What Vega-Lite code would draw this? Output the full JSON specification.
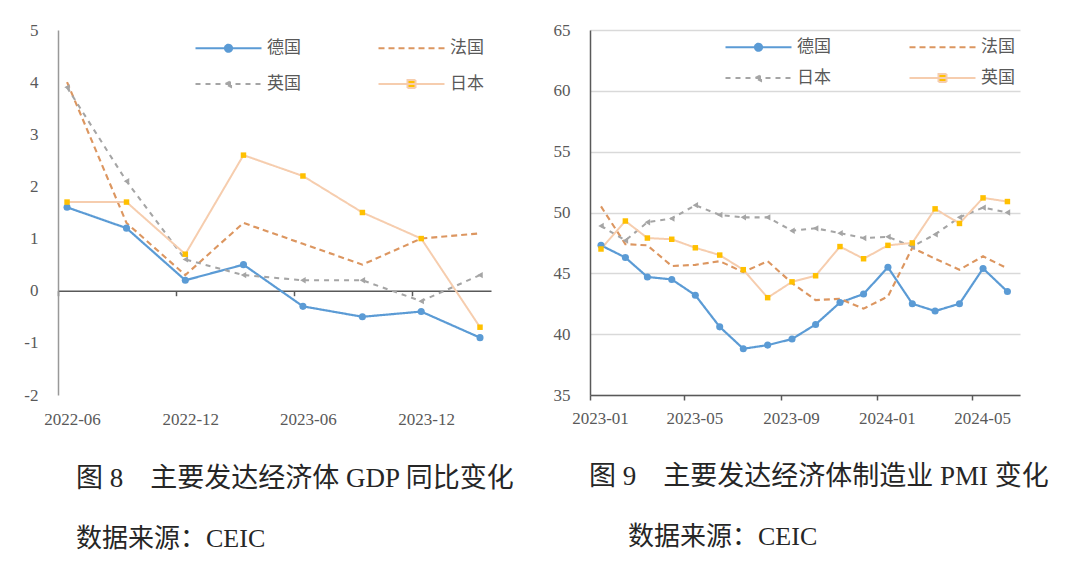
{
  "$schema": "https://vega.github.io/schema/vega-lite/v6.json",
  "background": "white",
  "padding": {"left": 23, "top": 21, "right": 5, "bottom": 5},
  "bounds": "flush",
  "spacing": 99,
  "hconcat": [
    {
      "width": 433,
      "height": 365,
      "title": {
        "text": "图 8　主要发达经济体 GDP 同比变化",
        "subtitle": "数据来源：CEIC",
        "orient": "bottom",
        "anchor": "start",
        "frame": "group",
        "dx": 18,
        "offset": 38,
        "subtitlePadding": 33
      },
      "data": {
        "format": {"parse": {"date": "date:'%Y-%m-%d'"}},
        "values": [
          {"date": "2022-06-15", "country": "德国", "value": 1.6},
          {"date": "2022-09-15", "country": "德国", "value": 1.2},
          {"date": "2022-12-15", "country": "德国", "value": 0.2},
          {"date": "2023-03-15", "country": "德国", "value": 0.5},
          {"date": "2023-06-15", "country": "德国", "value": -0.3},
          {"date": "2023-09-15", "country": "德国", "value": -0.5},
          {"date": "2023-12-15", "country": "德国", "value": -0.4},
          {"date": "2024-03-15", "country": "德国", "value": -0.9},
          {"date": "2022-06-15", "country": "法国", "value": 4.0},
          {"date": "2022-09-15", "country": "法国", "value": 1.3},
          {"date": "2022-12-15", "country": "法国", "value": 0.3},
          {"date": "2023-03-15", "country": "法国", "value": 1.3},
          {"date": "2023-06-15", "country": "法国", "value": 0.9},
          {"date": "2023-09-15", "country": "法国", "value": 0.5},
          {"date": "2023-12-15", "country": "法国", "value": 1.0},
          {"date": "2024-03-15", "country": "法国", "value": 1.1},
          {"date": "2022-06-15", "country": "英国", "value": 3.9},
          {"date": "2022-09-15", "country": "英国", "value": 2.1},
          {"date": "2022-12-15", "country": "英国", "value": 0.6},
          {"date": "2023-03-15", "country": "英国", "value": 0.3},
          {"date": "2023-06-15", "country": "英国", "value": 0.2},
          {"date": "2023-09-15", "country": "英国", "value": 0.2},
          {"date": "2023-12-15", "country": "英国", "value": -0.2},
          {"date": "2024-03-15", "country": "英国", "value": 0.3},
          {"date": "2022-06-15", "country": "日本", "value": 1.7},
          {"date": "2022-09-15", "country": "日本", "value": 1.7},
          {"date": "2022-12-15", "country": "日本", "value": 0.7},
          {"date": "2023-03-15", "country": "日本", "value": 2.6},
          {"date": "2023-06-15", "country": "日本", "value": 2.2},
          {"date": "2023-09-15", "country": "日本", "value": 1.5},
          {"date": "2023-12-15", "country": "日本", "value": 1.0},
          {"date": "2024-03-15", "country": "日本", "value": -0.7}
        ]
      },
      "encoding": {
        "x": {
          "field": "date",
          "type": "temporal",
          "scale": {"domain": [{"year": 2022, "month": 6, "date": 1}, {"year": 2024, "month": 4, "date": 1}]},
          "axis": {
            "title": null,
            "values": [
              {"year": 2022, "month": 6, "date": 1},
              {"year": 2022, "month": 12, "date": 1},
              {"year": 2023, "month": 6, "date": 1},
              {"year": 2023, "month": 12, "date": 1}
            ],
            "format": "%Y-%m",
            "offset": -104.3,
            "tickSize": 5,
            "labelPadding": 116,
            "labelOffset": 14,
            "domainColor": "#595959",
            "tickColor": "#595959",
            "grid": false
          }
        },
        "y": {
          "field": "value",
          "type": "quantitative",
          "scale": {"domain": [-2, 5], "nice": false, "zero": false},
          "axis": {
            "title": null,
            "values": [-2, -1, 0, 1, 2, 3, 4, 5],
            "labelExpr": "'' + datum.value",
            "grid": false,
            "ticks": false,
            "labelPadding": 20,
            "domainColor": "#999999"
          }
        }
      },
      "layer": [
        {
          "mark": {"type": "line"},
          "encoding": {
            "color": {
              "field": "country",
              "type": "nominal",
              "scale": {
                "domain": ["德国", "法国", "英国", "日本"],
                "range": ["#5B9BD5", "#DC9660", "#A5A5A5", "#F6CDAE"]
              },
              "legend": {
                "title": null,
                "orient": "none",
                "direction": "horizontal",
                "legendX": 162,
                "legendY": 9.5,
                "columns": 2,
                "columnPadding": 73,
                "rowPadding": 18,
                "padding": 0,
                "symbolSize": 100,
                "symbolStrokeWidth": 1.8,
                "labelOffset": 30,
                "encode": {
                  "symbols": {
                    "update": {
                      "shape": {"signal": "datum.value === '德国' ? 'M-6.6,0H6.6M-0.7,0A0.7,0.7,0,1,0,0.7,0A0.7,0.7,0,1,0,-0.7,0' : datum.value === '英国' ? 'M-6.6,0H6.6M-0.6,0L0.5,-0.55L0.5,0.55Z' : datum.value === '日本' ? 'M-6.6,0H6.6M-0.8,-0.8H0.8V0.8H-0.8Z' : 'M-6.6,0H6.6'"},
                      "fill": {"signal": "datum.value === '德国' ? '#5B9BD5' : datum.value === '英国' ? '#A5A5A5' : datum.value === '日本' ? '#FFC000' : 'transparent'"}
                    }
                  }
                }
              }
            },
            "strokeDash": {
              "field": "country",
              "type": "nominal",
              "scale": {
                "domain": ["德国", "法国", "英国", "日本"],
                "range": [[1, 0], [6, 4], [5, 5], [1, 0]]
              },
              "legend": {"title": null}
            },
            "strokeWidth": {
              "field": "country",
              "type": "nominal",
              "scale": {
                "domain": ["德国", "法国", "英国", "日本"],
                "range": [2.2, 2, 1.6, 1.6]
              },
              "legend": null
            }
          }
        },
        {
          "transform": [{"filter": "datum.country !== '法国'"}],
          "mark": {"type": "point", "filled": true, "opacity": 1, "strokeWidth": 0},
          "encoding": {
            "fill": {
              "field": "country",
              "type": "nominal",
              "scale": {"domain": ["德国", "英国", "日本"], "range": ["#5B9BD5", "#A5A5A5", "#FFC000"]},
              "legend": null
            },
            "shape": {
              "field": "country",
              "type": "nominal",
              "scale": {"domain": ["德国", "英国", "日本"], "range": ["circle", "triangle-left", "square"]},
              "legend": null
            },
            "size": {
              "field": "country",
              "type": "nominal",
              "scale": {"domain": ["德国", "英国", "日本"], "range": [50, 30, 72]},
              "legend": null
            }
          }
        }
      ]
    },
    {
      "width": 430,
      "height": 365,
      "title": {
        "text": "图 9　主要发达经济体制造业 PMI 变化",
        "subtitle": "\u200b\u2003\u2002数据来源：CEIC",
        "orient": "bottom",
        "anchor": "start",
        "frame": "group",
        "dx": -1,
        "offset": 38,
        "subtitlePadding": 33
      },
      "data": {
        "format": {"parse": {"date": "date:'%Y-%m-%d'"}},
        "values": [
          {"date": "2023-01-15", "country": "德国", "value": 47.3},
          {"date": "2023-02-15", "country": "德国", "value": 46.3},
          {"date": "2023-03-15", "country": "德国", "value": 44.7},
          {"date": "2023-04-15", "country": "德国", "value": 44.5},
          {"date": "2023-05-15", "country": "德国", "value": 43.2},
          {"date": "2023-06-15", "country": "德国", "value": 40.6},
          {"date": "2023-07-15", "country": "德国", "value": 38.8},
          {"date": "2023-08-15", "country": "德国", "value": 39.1},
          {"date": "2023-09-15", "country": "德国", "value": 39.6},
          {"date": "2023-10-15", "country": "德国", "value": 40.8},
          {"date": "2023-11-15", "country": "德国", "value": 42.6},
          {"date": "2023-12-15", "country": "德国", "value": 43.3},
          {"date": "2024-01-15", "country": "德国", "value": 45.5},
          {"date": "2024-02-15", "country": "德国", "value": 42.5},
          {"date": "2024-03-15", "country": "德国", "value": 41.9},
          {"date": "2024-04-15", "country": "德国", "value": 42.5},
          {"date": "2024-05-15", "country": "德国", "value": 45.4},
          {"date": "2024-06-15", "country": "德国", "value": 43.5},
          {"date": "2023-01-15", "country": "法国", "value": 50.5},
          {"date": "2023-02-15", "country": "法国", "value": 47.4},
          {"date": "2023-03-15", "country": "法国", "value": 47.3},
          {"date": "2023-04-15", "country": "法国", "value": 45.6},
          {"date": "2023-05-15", "country": "法国", "value": 45.7},
          {"date": "2023-06-15", "country": "法国", "value": 46.0},
          {"date": "2023-07-15", "country": "法国", "value": 45.1},
          {"date": "2023-08-15", "country": "法国", "value": 46.0},
          {"date": "2023-09-15", "country": "法国", "value": 44.2},
          {"date": "2023-10-15", "country": "法国", "value": 42.8},
          {"date": "2023-11-15", "country": "法国", "value": 42.9},
          {"date": "2023-12-15", "country": "法国", "value": 42.1},
          {"date": "2024-01-15", "country": "法国", "value": 43.1},
          {"date": "2024-02-15", "country": "法国", "value": 47.1},
          {"date": "2024-03-15", "country": "法国", "value": 46.2},
          {"date": "2024-04-15", "country": "法国", "value": 45.3},
          {"date": "2024-05-15", "country": "法国", "value": 46.4},
          {"date": "2024-06-15", "country": "法国", "value": 45.4},
          {"date": "2023-01-15", "country": "日本", "value": 48.9},
          {"date": "2023-02-15", "country": "日本", "value": 47.7},
          {"date": "2023-03-15", "country": "日本", "value": 49.2},
          {"date": "2023-04-15", "country": "日本", "value": 49.5},
          {"date": "2023-05-15", "country": "日本", "value": 50.6},
          {"date": "2023-06-15", "country": "日本", "value": 49.8},
          {"date": "2023-07-15", "country": "日本", "value": 49.6},
          {"date": "2023-08-15", "country": "日本", "value": 49.6},
          {"date": "2023-09-15", "country": "日本", "value": 48.5},
          {"date": "2023-10-15", "country": "日本", "value": 48.7},
          {"date": "2023-11-15", "country": "日本", "value": 48.3},
          {"date": "2023-12-15", "country": "日本", "value": 47.9},
          {"date": "2024-01-15", "country": "日本", "value": 48.0},
          {"date": "2024-02-15", "country": "日本", "value": 47.2},
          {"date": "2024-03-15", "country": "日本", "value": 48.2},
          {"date": "2024-04-15", "country": "日本", "value": 49.6},
          {"date": "2024-05-15", "country": "日本", "value": 50.4},
          {"date": "2024-06-15", "country": "日本", "value": 50.0},
          {"date": "2023-01-15", "country": "英国", "value": 47.0},
          {"date": "2023-02-15", "country": "英国", "value": 49.3},
          {"date": "2023-03-15", "country": "英国", "value": 47.9},
          {"date": "2023-04-15", "country": "英国", "value": 47.8},
          {"date": "2023-05-15", "country": "英国", "value": 47.1},
          {"date": "2023-06-15", "country": "英国", "value": 46.5},
          {"date": "2023-07-15", "country": "英国", "value": 45.3},
          {"date": "2023-08-15", "country": "英国", "value": 43.0},
          {"date": "2023-09-15", "country": "英国", "value": 44.3},
          {"date": "2023-10-15", "country": "英国", "value": 44.8},
          {"date": "2023-11-15", "country": "英国", "value": 47.2},
          {"date": "2023-12-15", "country": "英国", "value": 46.2},
          {"date": "2024-01-15", "country": "英国", "value": 47.3},
          {"date": "2024-02-15", "country": "英国", "value": 47.5},
          {"date": "2024-03-15", "country": "英国", "value": 50.3},
          {"date": "2024-04-15", "country": "英国", "value": 49.1},
          {"date": "2024-05-15", "country": "英国", "value": 51.2},
          {"date": "2024-06-15", "country": "英国", "value": 50.9}
        ]
      },
      "encoding": {
        "x": {
          "field": "date",
          "type": "temporal",
          "scale": {"domain": [{"year": 2023, "month": 1, "date": 1}, {"year": 2024, "month": 7, "date": 1}]},
          "axis": {
            "title": null,
            "values": [
              {"year": 2023, "month": 1, "date": 1},
              {"year": 2023, "month": 5, "date": 1},
              {"year": 2023, "month": 9, "date": 1},
              {"year": 2024, "month": 1, "date": 1},
              {"year": 2024, "month": 5, "date": 1}
            ],
            "format": "%Y-%m",
            "tickSize": 5,
            "labelPadding": 10,
            "labelOffset": 10,
            "domainColor": "#595959",
            "tickColor": "#595959",
            "grid": false
          }
        },
        "y": {
          "field": "value",
          "type": "quantitative",
          "scale": {"domain": [35, 65], "nice": false, "zero": false},
          "axis": {
            "title": null,
            "values": [35, 40, 45, 50, 55, 60, 65],
            "grid": true,
            "gridColor": "#D9D9D9",
            "gridWidth": 1.5,
            "ticks": false,
            "labelPadding": 20,
            "domainColor": "#595959"
          }
        }
      },
      "layer": [
        {
          "mark": {"type": "line"},
          "encoding": {
            "color": {
              "field": "country",
              "type": "nominal",
              "scale": {
                "domain": ["德国", "法国", "日本", "英国"],
                "range": ["#5B9BD5", "#DC9660", "#A5A5A5", "#F6CDAE"]
              },
              "legend": {
                "title": null,
                "orient": "none",
                "direction": "horizontal",
                "legendX": 160,
                "legendY": 8.5,
                "columns": 2,
                "columnPadding": 74,
                "rowPadding": 13,
                "padding": 0,
                "symbolSize": 100,
                "symbolStrokeWidth": 1.8,
                "labelOffset": 30,
                "encode": {
                  "symbols": {
                    "update": {
                      "shape": {"signal": "datum.value === '德国' ? 'M-6.6,0H6.6M-0.7,0A0.7,0.7,0,1,0,0.7,0A0.7,0.7,0,1,0,-0.7,0' : datum.value === '日本' ? 'M-6.6,0H6.6M-0.6,0L0.5,-0.55L0.5,0.55Z' : datum.value === '英国' ? 'M-6.6,0H6.6M-0.8,-0.8H0.8V0.8H-0.8Z' : 'M-6.6,0H6.6'"},
                      "fill": {"signal": "datum.value === '德国' ? '#5B9BD5' : datum.value === '日本' ? '#A5A5A5' : datum.value === '英国' ? '#FFC000' : 'transparent'"}
                    }
                  }
                }
              }
            },
            "strokeDash": {
              "field": "country",
              "type": "nominal",
              "scale": {
                "domain": ["德国", "法国", "日本", "英国"],
                "range": [[1, 0], [6, 4], [5, 5], [1, 0]]
              },
              "legend": {"title": null}
            },
            "strokeWidth": {
              "field": "country",
              "type": "nominal",
              "scale": {
                "domain": ["德国", "法国", "日本", "英国"],
                "range": [2.2, 2, 1.6, 1.6]
              },
              "legend": null
            }
          }
        },
        {
          "transform": [{"filter": "datum.country !== '法国'"}],
          "mark": {"type": "point", "filled": true, "opacity": 1, "strokeWidth": 0},
          "encoding": {
            "fill": {
              "field": "country",
              "type": "nominal",
              "scale": {"domain": ["德国", "日本", "英国"], "range": ["#5B9BD5", "#A5A5A5", "#FFC000"]},
              "legend": null
            },
            "shape": {
              "field": "country",
              "type": "nominal",
              "scale": {"domain": ["德国", "日本", "英国"], "range": ["circle", "triangle-left", "square"]},
              "legend": null
            },
            "size": {
              "field": "country",
              "type": "nominal",
              "scale": {"domain": ["德国", "日本", "英国"], "range": [50, 30, 72]},
              "legend": null
            }
          }
        }
      ]
    }
  ],
  "resolve": {
    "scale": {
      "x": "independent",
      "y": "independent",
      "color": "independent",
      "strokeDash": "independent",
      "strokeWidth": "independent",
      "fill": "independent",
      "shape": "independent",
      "size": "independent"
    },
    "legend": {"color": "independent", "strokeDash": "independent"}
  },
  "config": {
    "view": {"stroke": null},
    "axis": {
      "labelFont": "Liberation Serif",
      "labelFontSize": 17,
      "labelColor": "#595959",
      "domainWidth": 1.5,
      "tickWidth": 1.5,
      "labelOverlap": false,
      "labelFlush": false
    },
    "legend": {
      "labelFont": "Noto Sans CJK SC",
      "labelFontSize": 17,
      "labelColor": "#595959"
    },
    "title": {
      "font": "Liberation Serif, Noto Sans CJK SC",
      "fontSize": 27,
      "fontWeight": "normal",
      "color": "#262626",
      "subtitleFont": "Liberation Serif, Noto Sans CJK SC",
      "subtitleFontSize": 26,
      "subtitleColor": "#262626"
    }
  }
}
